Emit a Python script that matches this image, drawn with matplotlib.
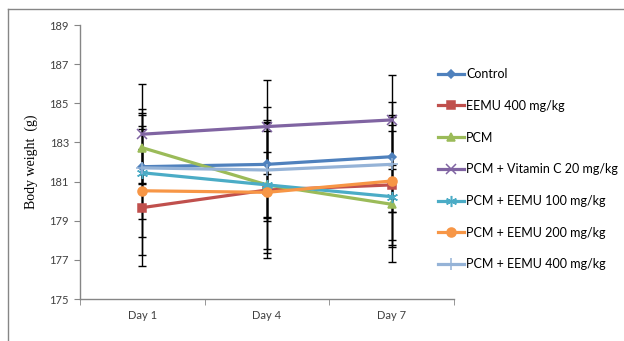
import matplotlib
matplotlib.use("Agg")
import matplotlib.pyplot as plt
from matplotlib.lines import Line2D

days = ["Day 1", "Day 4", "Day 7"]
series_names = ["Control", "EEMU 400 mg/kg", "PCM", "PCM + Vitamin C 20 mg/kg",
                "PCM + EEMU 100 mg/kg", "PCM + EEMU 200 mg/kg", "PCM + EEMU 400 mg/kg"]

control = [181.76, 181.88, 182.27]
eemu400 = [179.67, 180.57, 180.83]
pcm = [182.73, 180.83, 179.84]
pcm_vitc = [183.42, 183.81, 184.15]
pcm_eemu100 = [181.45, 180.83, 180.23]
pcm_eemu200 = [180.53, 180.45, 181.03]
pcm_eemu400 = [181.70, 181.59, 181.88]

err_control = [2.66, 2.91, 2.81]
err_eemu400 = [2.98, 3.47, 3.07]
err_pcm = [1.79, 1.69, 1.80]
err_pcm_vitc = [2.55, 2.40, 2.30]
err_pcm_eemu100 = [3.27, 3.30, 3.36]
err_pcm_eemu200 = [3.30, 3.12, 3.35]
err_pcm_eemu400 = [2.01, 2.39, 2.43]

yticks = [175, 177, 179, 181, 183, 185, 187, 189]

values = [control, eemu400, pcm, pcm_vitc, pcm_eemu100, pcm_eemu200, pcm_eemu400]
errors = [err_control, err_eemu400, err_pcm, err_pcm_vitc, err_pcm_eemu100,
          err_pcm_eemu200, err_pcm_eemu400]
colors = ["#4F81BD", "#C0504D", "#9BBB59", "#8064A2", "#4BACC6", "#F79646", "#95B3D7"]
markers = ["D", "s", "^", "x", (6, 2, 0), "o", "+"]
msizes = [4.5, 5.5, 6, 7, 8, 6.5, 8]

fig = plt.figure(figsize=(6.24, 3.41), dpi=100)
ax = fig.add_axes([80/624, 1-299/341, (454-80)/624, (299-25)/341])

x = list(range(len(days)))
for vals, errs in zip(values, errors):
    ax.errorbar(x, vals, yerr=errs, fmt="none", ecolor="black", elinewidth=1.0,
                capsize=3, capthick=1.0, zorder=2)
for vals, c, m, ms, name in zip(values, colors, markers, msizes, series_names):
    ax.plot(x, vals, color=c, lw=2.3, marker=m, markersize=ms, markeredgewidth=1.1,
            markeredgecolor=c, markerfacecolor=c, label=name, zorder=3)

ax.set_xlim(-0.5, 2.5)
ax.set_ylim(175, 189)
ax.set_yticks(yticks)
ax.set_yticklabels([str(t) for t in yticks], fontsize=8, family="Lato", color="#404040")
ax.set_xticks(x)
ax.set_xticklabels(days, fontsize=8, family="Lato", color="#404040")
ax.tick_params(axis="x", length=0, pad=8)
ax.set_xticks([-0.5, 0.5, 1.5, 2.5], minor=True)
ax.tick_params(axis="x", which="minor", length=4, color="#868686", direction="out")
ax.tick_params(axis="y", length=4, color="#868686", direction="out", pad=4)
for s in ["top", "right"]:
    ax.spines[s].set_visible(False)
for s in ["left", "bottom"]:
    ax.spines[s].set_color("#868686")
    ax.spines[s].set_linewidth(1)

ax.set_ylabel("Body weight  (g)", family="Liberation Serif", fontsize=10, labelpad=8)

leg = fig.legend(loc="upper left", bbox_to_anchor=(433/624, 1-63/341), frameon=False,
                 prop={"family": "Lato", "size": 9}, handlelength=2.1, handletextpad=0.15,
                 labelspacing=1.58, borderaxespad=0)

fig.add_artist(Line2D([8/624, 8/624], [0, 1-9/341], color="#868686", lw=1))
fig.add_artist(Line2D([8/624, 1], [1-9/341, 1-9/341], color="#868686", lw=1))

fig.savefig("out.png", dpi=100)
